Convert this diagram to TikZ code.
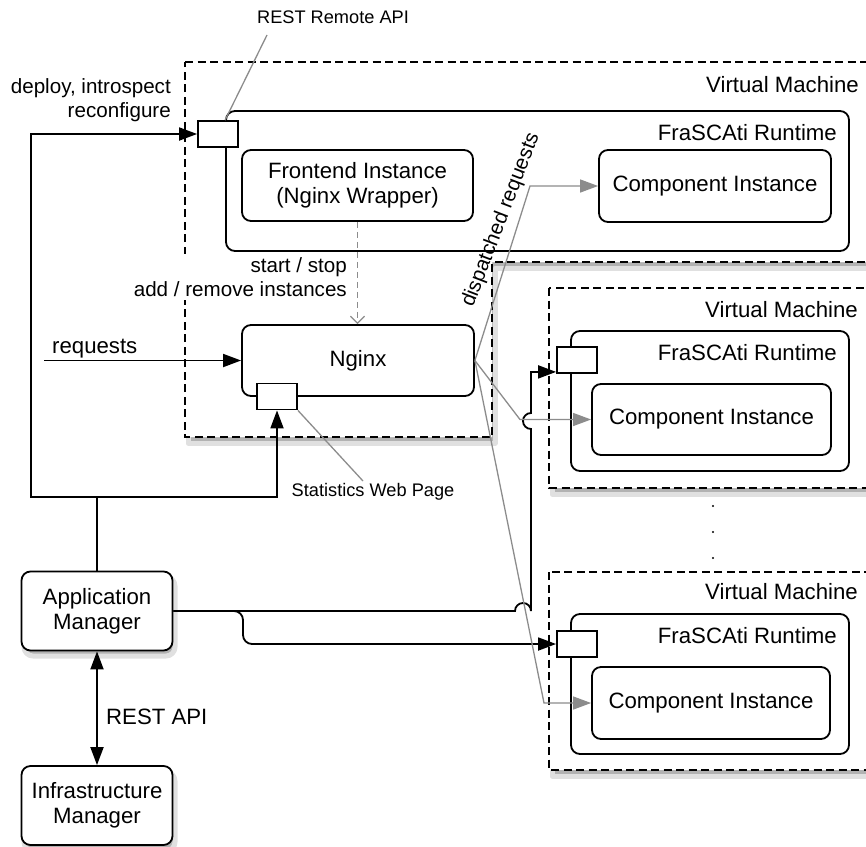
\documentclass[tikz,border=0pt]{standalone}
\usepackage{fontspec}
\setmainfont{Liberation Sans}
\usetikzlibrary{arrows.meta, calc}

\newcommand\mainsize{\fontsize{22.2}{25.5}\selectfont}
\newcommand\notesize{\fontsize{20.6}{24}\selectfont}
\newcommand\smallsize{\fontsize{18.2}{21}\selectfont}

\begin{document}
\begin{tikzpicture}[x=1pt, y=-1pt,
  shadowfill/.style={fill=black!30, draw=black!12, line width=5pt, line join=round},
  vm/.style={draw, line width=1.8pt, dash pattern=on 8pt off 4.5pt, fill=white},
  runtime/.style={draw, line width=1.8pt, rounded corners=9pt, fill=white, inner sep=0pt},
  box/.style={draw, line width=1.8pt, rounded corners=9pt, fill=white, align=center, font=\mainsize},
  port/.style={draw, line width=1.8pt, fill=white, minimum width=40pt, minimum height=26pt, inner sep=0pt},
  tip/.style={-{Triangle[length=18pt, width=13pt]}},
  ctrl/.style={line width=1.8pt, tip},
  disp/.style={line width=1.3pt, black!45, tip},
  callout/.style={line width=1.3pt, black!45},
  title/.style={anchor=base east, font=\mainsize, inner sep=0pt},
  note/.style={font=\notesize, align=right, inner sep=0pt},
  small/.style={font=\smallsize, inner sep=0pt}]
  \useasboundingbox (0,0) rectangle (866,846);

  % shadows
  \path[shadowfill] (188,68) -- (878,68) -- (878,268) -- (495,268) -- (495,443) -- (188,443) -- cycle;
  \path[shadowfill] (552,294) rectangle (878,494);
  \path[shadowfill] (552,578) rectangle (878,776);
  \path[shadowfill, rounded corners=9pt] (24,577) rectangle (175,656);
  \path[shadowfill, rounded corners=9pt] (24,772) rectangle (175,851);

  % virtual machines
  \draw[vm] (185,62) -- (875,62) -- (875,262) -- (492,262) -- (492,437) -- (185,437) -- cycle;
  \draw[vm] (549,288) rectangle (875,488);
  \draw[vm] (549,572) rectangle (875,770);
  \node[title] (vm1) at (859,92) {Virtual Machine};
  \node[title] (vm2) at (858,317) {Virtual Machine};
  \node[title] (vm3) at (858,599) {Virtual Machine};
  \foreach \y in {506,532,558}
    \fill (713,\y) circle (1.2pt);

  % runtimes
  \node[runtime, minimum width=623pt, minimum height=140pt] (rt1) at (537.5,181) {};
  \node[runtime, minimum width=278pt, minimum height=140pt] (rt2) at (710,401) {};
  \node[runtime, minimum width=278pt, minimum height=140pt] (rt3) at (710,684) {};
  \node[title] (rt1lbl) at (837,140) {FraSCAti Runtime};
  \node[title] (rt2lbl) at (837,360) {FraSCAti Runtime};
  \node[title] (rt3lbl) at (837,643) {FraSCAti Runtime};

  % boxes
  \node[box, minimum width=232pt, minimum height=72pt] (comp1) at (715,186) {Component Instance};
  \node[box, minimum width=239pt, minimum height=71pt] (comp2) at (711.5,419.5) {Component Instance};
  \node[box, minimum width=238pt, minimum height=72pt] (comp3) at (711,703) {Component Instance};
  \node[box, minimum width=231pt, minimum height=71pt] (front) at (357.5,185.5) {Frontend Instance\\(Nginx Wrapper)};
  \node[box, minimum width=232pt, minimum height=71pt] (nginx) at (358,360.5) {Nginx};
  \node[box, minimum width=151pt, minimum height=79pt] (amgr) at (97,611) {Application\\Manager};
  \node[box, minimum width=151pt, minimum height=79pt] (imgr) at (97,805.5) {Infrastructure\\Manager};

  % ports
  \node[port] (port1) at (218,134) {};
  \node[port] (port2) at (577,360) {};
  \node[port] (port3) at (577,644) {};
  \node[port] (statport) at (277,396.5) {};

  % control links
  \coordinate (split) at (97,497);
  \coordinate (reqin) at (44,360.5);
  \draw[ctrl] (amgr.north) |- (31,497) |- (port1.west);
  \draw[ctrl] (split) -| (statport.south);
  \draw[ctrl] (reqin) -- (nginx.west);
  \draw[ctrl] (amgr.east) -- (515,611) arc[start angle=180, end angle=360, radius=8]
    -- (531,429) arc[start angle=90, end angle=270, radius=8]
    |- ($(port2.south west)+(0,-2)$);
  \draw[ctrl, rounded corners=9pt] (amgr.east) -- (243,611) -- (243,644) -- (port3.west);
  \draw[line width=1.8pt, {Triangle[length=18pt, width=13pt]}-{Triangle[length=18pt, width=13pt]}]
    (amgr.south) -- (imgr.north);
  \draw[line width=1.3pt, black!45, dash pattern=on 6pt off 4pt, -{Straight Barb[length=7pt, width=14pt]}]
    (front.south) -- (front.south |- nginx.north);

  % dispatched requests
  \draw[disp] (nginx.east) -- (530,186) -- (comp1.west);
  \draw[disp] (nginx.east) -- (520,419.5) -- (comp2.west);
  \draw[disp] (nginx.east) -- (544,703) -- (comp3.west);

  % callouts
  \coordinate (restpin) at (267,35);
  \coordinate (statpin) at (363,481);
  \node[small] (restlbl) at (333,17) {REST Remote API};
  \node[small] (statlbl) at (373,492) {Statistics Web Page};
  \draw[callout] (restpin) -- (port1.north -| rt1.west);
  \draw[callout] (statport.south east) -- (statpin);

  % labels
  \node[note, anchor=east] (deploylbl) at (171,100) {deploy, introspect\\reconfigure};
  \node[note, anchor=east, fill=white, inner sep=3pt] (startlbl) at (350,277) {start / stop\\add / remove instances};
  \node[font=\mainsize, anchor=base west, inner sep=0pt] (reqlbl) at (52,353) {requests};
  \node[note, rotate=69] (displbl) at (501,220) {dispatched requests};
  \node[font=\mainsize, anchor=base west, inner sep=0pt] (restapi) at (106,724) {REST API};
\end{tikzpicture}
\end{document}
